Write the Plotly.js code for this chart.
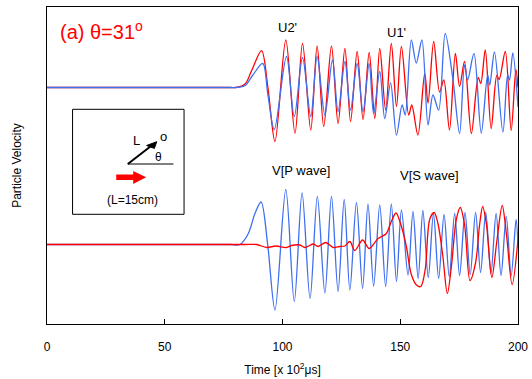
<!DOCTYPE html>
<html>
<head>
<meta charset="utf-8">
<script src="https://cdn.plot.ly/plotly-3.0.1.min.js"></script>
<style>html,body{margin:0;padding:0;background:#fff;}#chart{width:532px;height:379px;}</style>
</head>
<body>
<div id="chart"></div>
<script>
// Time axis values [x 10^2 us] and particle velocity amplitudes (arbitrary units)
const timeUpperRed = [0, 20, 40, 60, 72, 78, 80.2, 84.1, 87.0, 91.1, 93.8, 96.8, 101.4, 105.3, 108.5, 112.0, 114.7, 117.5, 120.8, 123.6, 126.5, 128.9, 131.7, 134.2, 136.8, 139.2, 141.3, 143.8, 146.2, 148.4, 150.5, 153.6, 154.9, 157.5, 160.4, 161.8, 164.2, 166.7, 168.5, 170.9, 173.4, 175.2, 177.3, 180.2, 183.1, 184.2, 186.1, 188.6, 191.0, 192.0, 194.6, 197.1, 199.1, 200];
const velUpperRed = [0, 0, 0, 0, 0, 0, 0, 3.5, 17.5, 36.8, 0, -54, 47.5, -45.8, 44, -42.5, 41.5, -39, 41.5, -36, 39, -34, 36, -32, 35, -31, 39, -22.5, 44, -19, 41, -27.5, -17.5, -47.5, 14, -15.5, 46, -4.5, 7.5, -42.5, 34, 1, 26, -46, 10, 4, 37.5, -41, 12, 8, 36, -43, 18, 0];

const timeUpperBlue = [0, 20, 40, 60, 72, 78, 80.2, 84.1, 87.3, 91.6, 93.8, 96.5, 101.7, 105.0, 108.5, 112.0, 114.7, 118.0, 121.2, 123.6, 126.5, 128.9, 131.7, 134.2, 136.8, 138.7, 141.3, 143.4, 145.9, 148.4, 150.8, 152.1, 154.7, 156.8, 159.2, 161.8, 163.9, 166.3, 169.1, 172.4, 175.2, 177.3, 178.6, 181.3, 184.4, 187.1, 188.0, 190.0, 193.6, 195.6, 196.4, 197.8, 200];
const velUpperBlue = [0, 0, 0, 0, 0, 0, 0, 2, 12, 24, -7.5, -42, 31, -29, 30, -29, 31, -27.5, 27.5, -24, 26, -22.5, 24, -24, 24, -26, 16, -31, 4.5, -47.5, -17.5, -27.5, 47.5, 24.5, 47.5, -37.5, -7.5, -22.5, 54, 7.5, -46, 22.5, 7.5, 34, -45.5, 12.5, 2.5, 35.5, -44.5, 12.5, 7.5, 34.5, -19.5];

const timeLowerBlue = [0, 20, 40, 60, 72, 78, 81.9, 85.5, 88.3, 90.9, 93.7, 96.8, 101.4, 105.0, 108.3, 111.7, 114.8, 118.0, 120.8, 123.6, 126.2, 128.6, 131.4, 134.0, 136.3, 138.7, 141.3, 143.8, 146.2, 148.4, 150.5, 153.3, 155.4, 157.6, 159.6, 161.9, 164.1, 166.3, 168.6, 170.8, 173.1, 175.2, 177.5, 179.7, 182.0, 184.1, 186.3, 188.5, 190.7, 192.8, 195.0, 197.1, 199.2, 200];
const velLowerBlue = [0, 0, 0, 0, 0, 0, 0, 11, 31, 42.5, 0, -65.5, 55, -57, 51.5, -54, 48, -48.5, 48, -47, 45, -45.5, 42, -44, 40.5, -41.5, 39.5, -42, 40.5, -37, 34.5, -30.5, 33, -34, 34, -33, 31, -34, 30, -32, 31, -31, 32, -30, 32, -28, 32, -29, 31, -31, 28, -31, 25, -2];

const timeLowerRed = [0, 20, 40, 60, 75, 84, 89.0, 93.3, 97.2, 101.7, 103.9, 107.4, 109.5, 113.0, 115.1, 118.4, 121.5, 124.3, 126.5, 128.6, 130.7, 134.0, 136.8, 140.6, 144.1, 146.2, 148.2, 150.5, 152.6, 154.7, 156.9, 158.7, 160.6, 162.5, 164.4, 166.0, 168.0, 170.0, 171.8, 173.8, 175.5, 177.3, 179.6, 182.0, 183.7, 185.0, 186.6, 188.9, 191.1, 193.3, 195.1, 197.5, 200];
const velLowerRed = [0, 0, 0, 0, 0, 0, 0, -3, -1.5, -3, -1, -0.5, -3, 0.5, -2, 2, -3, -2, -1.5, 3, -6, 4.5, -4, 6, 11, 23, 31.5, 18, -2, -30, -40.5, -42, -25, 25, 32, 21, -10, -49, -20, 25, 37, 20, -36, -18, 20, 38, 20, -33, 5, 39, 10, -40, 5];

const xTicks = [0, 50, 100, 150, 200];
const xTickText = ['0', '50', '100', '150', '200'];

// Layout constants (vertical offsets of the two trace groups)
const UPPER_ZERO = 236.5;
const LOWER_ZERO = 79.5;
const RED = '#ff0000';
const BLUE = '#3f6ff0';
const FONT = 'Liberation Sans, Arial, sans-serif';

function shifted(arr, off) { return arr.map(v => v + off); }
function tr(x, y, color) {
  return {x: x, y: y, type: 'scatter', mode: 'lines', hoverinfo: 'skip',
    line: {color: color, width: 1.3, shape: 'spline', smoothing: 0.9}, showlegend: false};
}

const data = [
  tr(timeUpperRed, shifted(velUpperRed, UPPER_ZERO), RED),
  tr(timeUpperBlue, shifted(velUpperBlue, UPPER_ZERO), BLUE),
  tr(timeLowerBlue, shifted(velLowerBlue, LOWER_ZERO), BLUE),
  tr(timeLowerRed, shifted(velLowerRed, LOWER_ZERO), RED)
];

function txt(x, y, text, size, color, xanchor) {
  return {x: x, y: y, xref: 'x', yref: 'y', text: text, showarrow: false,
    font: {family: FONT, size: size, color: color || '#000'}, xanchor: xanchor || 'center', yanchor: 'middle'};
}

const layout = {
  width: 532, height: 379,
  margin: {l: 47, r: 14, t: 7, b: 55, pad: 0},
  paper_bgcolor: '#fff', plot_bgcolor: '#fff',
  font: {family: FONT, size: 12, color: '#000'},
  xaxis: {
    range: [0, 200], tickvals: xTicks, ticktext: xTickText,
    ticks: 'inside', ticklen: 5, tickcolor: '#000', tickwidth: 1,
    showline: true, linecolor: '#000', linewidth: 1, mirror: true,
    showgrid: false, zeroline: false, ticklabelstandoff: 12,
    tickfont: {family: FONT, size: 12, color: '#000'},
    title: {text: 'Time [x 10<sup>2</sup>μs]', font: {family: FONT, size: 12, color: '#000'}, standoff: 12}
  },
  yaxis: {
    range: [0, 317], showticklabels: false, ticks: '',
    showline: true, linecolor: '#000', linewidth: 1, mirror: true,
    showgrid: false, zeroline: false,
    title: {text: 'Particle Velocity', font: {family: FONT, size: 12, color: '#000'}, standoff: 21}
  },
  shapes: [
    {type: 'rect', xref: 'x', yref: 'y', x0: 10.85, x1: 58.2, y0: 109.7, y1: 214.7,
      line: {color: '#000', width: 1}, fillcolor: 'rgba(0,0,0,0)'},
    {type: 'line', xref: 'x', yref: 'y', x0: 34.3, x1: 53.7, y0: 160, y1: 160,
      line: {color: '#000', width: 1}},
    // black arrow (L direction)
    {type: 'line', xref: 'x', yref: 'y', x0: 34.3, y0: 160, x1: 44.6, y1: 178.7,
      line: {color: '#000', width: 2}},
    {type: 'path', xref: 'x', yref: 'y',
      path: 'M46.6,182.3 L42.3,178.5 L45.6,175.6 Z',
      fillcolor: '#000', line: {color: '#000', width: 1}},
    // red arrow (wave propagation)
    {type: 'path', xref: 'x', yref: 'y',
      path: 'M29.4,149.5 L36.6,149.5 L36.6,153 L42.1,146.7 L36.6,140 L36.6,144 L29.4,144 Z',
      fillcolor: RED, line: {color: RED, width: 0}}
  ],
  annotations: [
    txt(4.8, 294, '(a) θ=31<sup>o</sup>', 20, RED, 'left'),
    txt(102.1, 296.5, "U2'", 13),
    txt(148.5, 291.5, "U1'", 13),
    txt(108.0, 154, 'V[P wave]', 13),
    txt(162.5, 149, 'V[S wave]', 13),
    txt(38.2, 184, 'L', 13),
    txt(49.4, 188, 'o', 13),
    txt(47.3, 167.5, 'θ', 12),
    txt(36.4, 124, '(L=15cm)', 12)
  ]
};

Plotly.newPlot('chart', data, layout, {displayModeBar: false, staticPlot: true});
</script>
</body>
</html>
